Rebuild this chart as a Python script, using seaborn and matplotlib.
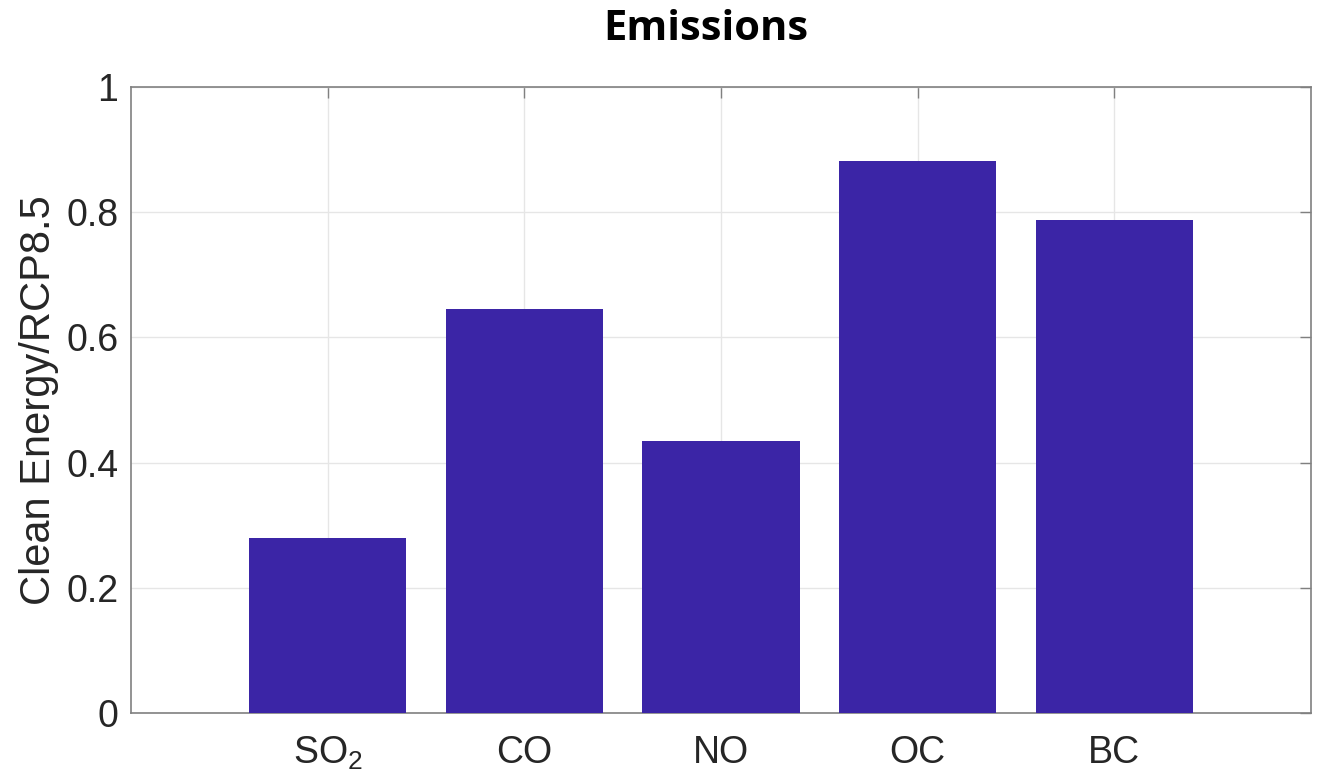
import matplotlib
matplotlib.use('Agg')
import matplotlib.pyplot as plt
import seaborn as sns
import pandas as pd

# values
species = ['SO$_2$', 'CO', 'NO', 'OC', 'BC']
ratio = [0.28, 0.646, 0.434, 0.882, 0.788]
yticks = [0, 0.2, 0.4, 0.6, 0.8, 1]
ytick_labels = ['0', '0.2', '0.4', '0.6', '0.8', '1']

sns.set_style('white')
plt.rcParams['font.family'] = ['Liberation Sans', 'DejaVu Sans']
plt.rcParams['mathtext.fontset'] = 'custom'
plt.rcParams['mathtext.rm'] = 'Liberation Sans'
plt.rcParams['mathtext.it'] = 'Liberation Sans'
plt.rcParams['mathtext.default'] = 'rm'

df = pd.DataFrame({'species': species, 'ratio': ratio})

fig = plt.figure(figsize=(13.27, 7.84), dpi=100)
ax = fig.add_axes([0.0987, 0.0906, 0.8893, 0.7984])

sns.barplot(data=df, x='species', y='ratio', color='#3B25A6', saturation=1,
            width=0.8, linewidth=0, ax=ax, zorder=3)

ax.set_xlim(-1, 5)
ax.set_ylim(0, 1)
ax.set_yticks(yticks)
ax.set_yticklabels(ytick_labels)
ax.grid(True, color='#e6e6e6', linewidth=1, zorder=0)
ax.set_axisbelow(True)

for s in ax.spines.values():
    s.set_color('#808080')
    s.set_linewidth(1.2)
    s.set_visible(True)

ax.tick_params(axis='both', direction='in', length=8, width=1, color='#808080',
               labelsize=27, labelcolor='#262626', top=True, right=True)
ax.tick_params(axis='y', pad=9)
ax.tick_params(axis='x', pad=16)
ax.set_xlabel('')
ax.set_ylabel('Clean Energy/RCP8.5', fontsize=30, color='#262626', labelpad=5)

fig.text(0.532, 0.962, 'Emissions', ha='center', va='center', fontsize=30,
         fontweight='bold', color='black', family=['Open Sans', 'DejaVu Sans'])

fig.savefig('out.png', dpi=100)
plt.close(fig)
